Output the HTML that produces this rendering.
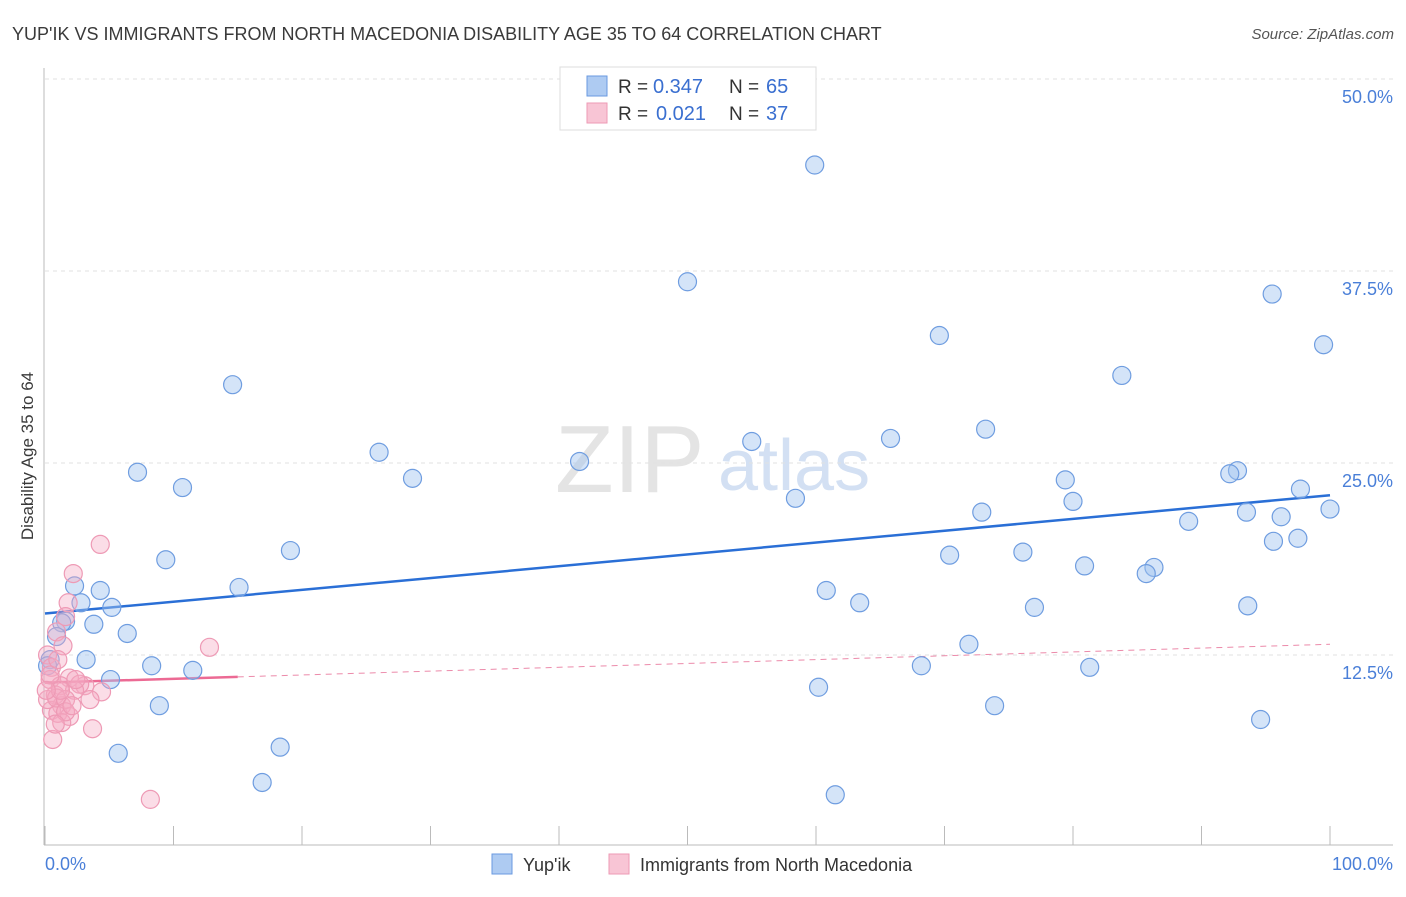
<!DOCTYPE html>
<html><head><meta charset="utf-8"><style>
body{margin:0;background:#fff;font-family:"Liberation Sans",sans-serif;}
svg text{font-family:"Liberation Sans",sans-serif;}
</style></head><body>
<svg id="chart" width="1406" height="892" xmlns="http://www.w3.org/2000/svg">
<text x="12" y="40" font-size="18" fill="#3a3a3a">YUP'IK VS IMMIGRANTS FROM NORTH MACEDONIA DISABILITY AGE 35 TO 64 CORRELATION CHART</text>
<text x="1394" y="39" font-size="15" fill="#555" font-style="italic" text-anchor="end">Source: ZipAtlas.com</text>
<text x="555" y="492" font-size="96" fill="#e4e4e4" font-family="Liberation Serif">ZIP</text>
<text x="718" y="490" font-size="72" fill="#d3e0f3">atlas</text>
<g id="grid"></g><g id="axes"></g><g id="trends"></g><g id="points"></g>
<text transform="translate(33,456) rotate(-90)" font-size="17" fill="#3a3a3a" text-anchor="middle">Disability Age 35 to 64</text>
<text x="45" y="870" font-size="18" fill="#4a7fd8">0.0%</text>
<text x="1393" y="870" font-size="18" fill="#4a7fd8" text-anchor="end">100.0%</text>
<g>
<rect x="560" y="67" width="256" height="63" fill="#fff" stroke="#ddd"/>
<rect x="587" y="76" width="20" height="20" fill="#aecbf2" stroke="#6a9ae0"/>
<rect x="587" y="103" width="20" height="20" fill="#f8c5d5" stroke="#ee9ab5"/>
<text x="618" y="93" font-size="19" fill="#333">R =</text>
<text x="653" y="93" font-size="20" fill="#3a6fd0">0.347</text>
<text x="729" y="93" font-size="19" fill="#333">N =</text>
<text x="766" y="93" font-size="20" fill="#3a6fd0">65</text>
<text x="618" y="120" font-size="19" fill="#333">R =</text>
<text x="656" y="120" font-size="20" fill="#3a6fd0">0.021</text>
<text x="729" y="120" font-size="19" fill="#333">N =</text>
<text x="766" y="120" font-size="20" fill="#3a6fd0">37</text>
</g>
<g>
<rect x="492" y="854" width="20" height="20" fill="#aecbf2" stroke="#6a9ae0"/>
<text x="523" y="871" font-size="18" fill="#333">Yup'ik</text>
<rect x="609" y="854" width="20" height="20" fill="#f8c5d5" stroke="#ee9ab5"/>
<text x="640" y="871" font-size="18" fill="#333">Immigrants from North Macedonia</text>
</g>
</svg>
<script>
const yTicks=[12.5,25,37.5,50];
const yTickLabels=["12.5%","25.0%","37.5%","50.0%"];
const xTicks=[0,10,20,30,40,50,60,70,80,90,100];
const blueX=[59.9,50.0,95.5,69.6,99.5,14.6,83.8,26.0,65.8,73.2,55.0,41.6,7.2,92.8,92.2,10.7,28.6,79.4,97.7,58.4,80.0,100.0,72.9,93.5,96.2,89.0,95.6,97.5,19.1,70.4,76.1,9.4,80.9,86.3,85.7,2.3,4.3,15.1,60.8,2.8,5.2,63.4,77.0,93.6,1.6,3.8,1.3,6.4,0.9,71.9,3.2,8.3,11.5,68.2,81.3,5.1,60.2,8.9,73.9,94.6,5.7,18.3,16.9,61.5,0.4,0.2];
const blueY=[44.4,36.8,36.0,33.3,32.7,30.1,30.7,25.7,26.6,27.2,26.4,25.1,24.4,24.5,24.3,23.4,24.0,23.9,23.3,22.7,22.5,22.0,21.8,21.8,21.5,21.2,19.9,20.1,19.3,19.0,19.2,18.7,18.3,18.2,17.8,17.0,16.7,16.9,16.7,15.9,15.6,15.9,15.6,15.7,14.7,14.5,14.6,13.9,13.7,13.2,12.2,11.8,11.5,11.8,11.7,10.9,10.4,9.2,9.2,8.3,6.1,6.5,4.2,3.4,12.2,11.8];
const pinkX=[4.3,2.2,1.8,1.6,0.9,1.4,12.8,0.2,0.5,1.9,0.4,1.2,3.1,2.7,4.4,2.3,0.8,3.5,1.3,0.5,1.0,1.9,1.3,3.7,0.6,8.2,0.2,0.9,1.6,1.2,0.4,2.4,1.6,0.8,2.1,0.1,1.0];
const pinkY=[19.7,17.8,15.9,15.0,14.0,13.1,13.0,12.5,11.7,11.0,10.9,10.5,10.5,10.6,10.1,10.2,9.9,9.6,9.2,8.9,8.7,8.5,8.1,7.7,7.0,3.1,9.6,9.7,9.6,10.2,11.2,10.9,8.8,8.0,9.2,10.2,12.2];
const blueTrend=[15.2,22.9];
const pinkTrend=[10.7,13.2];
const pinkSolidEnd=15;
const NS="http://www.w3.org/2000/svg";
const X=v=>45+v*12.85, Y=v=>847-v*15.36;
function mk(t,a,p){const e=document.createElementNS(NS,t);for(const k in a)e.setAttribute(k,a[k]);document.getElementById(p).appendChild(e);return e;}
yTicks.forEach((t,i)=>{
 const l=mk('line',{x1:45,x2:1393,y1:Y(t),y2:Y(t),stroke:'#e2e2e2','stroke-dasharray':'4,4'},'grid');
 
 
 const tx=mk('text',{x:1393,y:Y(t)+24,'font-size':18,fill:'#4a7fd8','text-anchor':'end'},'grid');
 tx.textContent=yTickLabels[i];
 
 
});
let a=mk('line',{x1:44,x2:44,y1:68,y2:845,stroke:'#bbb'},'axes');


a=mk('line',{x1:44,x2:1393,y1:845,y2:845,stroke:'#bbb'},'axes');


xTicks.forEach(t=>{
 const l=mk('line',{x1:X(t),x2:X(t),y1:826,y2:845,stroke:'#bbb'},'axes');
 
 
});
function pts(xs,ys,fill,stroke,name){xs.forEach((x,i)=>{
 const c=mk('circle',{cx:X(x),cy:Y(ys[i]),r:9,fill:fill,stroke:stroke,'stroke-width':1.2},'points');
 
 
});}
pts(blueX,blueY,'rgba(160,196,240,0.45)','#6f9de0','yupik-point');
pts(pinkX,pinkY,'rgba(245,170,195,0.4)','#ee9ab5','macedonia-point');
let t=mk('line',{x1:X(0),y1:Y(blueTrend[0]),x2:X(100),y2:Y(blueTrend[1]),stroke:'#2a6fd6','stroke-width':2.5},'trends');


const pAt=v=>pinkTrend[0]+(pinkTrend[1]-pinkTrend[0])*v/100;
t=mk('line',{x1:X(0),y1:Y(pAt(0)),x2:X(pinkSolidEnd),y2:Y(pAt(pinkSolidEnd)),stroke:'#ec6a94','stroke-width':2.5},'trends');


t=mk('line',{x1:X(pinkSolidEnd),y1:Y(pAt(pinkSolidEnd)),x2:X(100),y2:Y(pAt(100)),stroke:'#ec8aaa','stroke-width':1,'stroke-dasharray':'6,5'},'trends');


</script>
</body></html>
